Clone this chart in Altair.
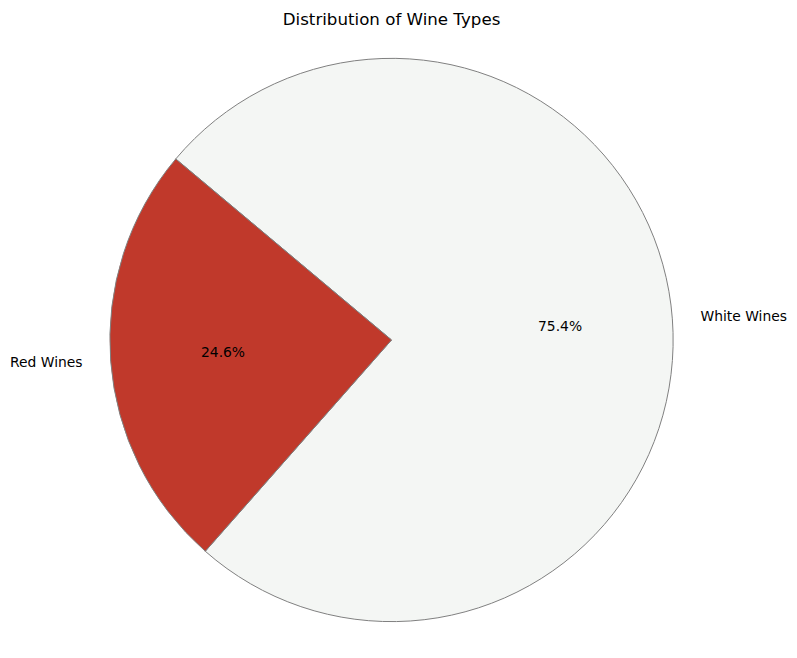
import math
import altair as alt
import pandas as pd

# Data
wine_types = ["White Wines", "Red Wines"]
counts = [4898, 1599]
colors = ["#f4f6f4", "#c0392b"]
order = [0, 1]

df = pd.DataFrame({"type": wine_types, "count": counts, "order": order})

FONT = "DejaVu Sans"
R = 282
start = math.radians(310)

base = (
    alt.Chart(df)
    .transform_stack(stack="count", groupby=[], as_=["start", "end"],
                     sort=[alt.SortField("order", order="ascending")])
    .transform_joinaggregate(total="sum(count)")
    .transform_calculate(
        mid="(datum.start + datum.end) / 2",
        pct="format(datum.count / datum.total * 100, '.1f') + '%'",
    )
)

theta_scale = alt.Scale(domain=[0, sum(counts)], range=[start, start + 2 * math.pi])

arcs = base.mark_arc(radius=R, stroke="#808080", strokeWidth=1).encode(
    theta=alt.Theta("start:Q", scale=theta_scale, stack=None),
    theta2="end:Q",
    color=alt.Color("type:N", scale=alt.Scale(domain=wine_types, range=colors), legend=None),
)

pct_text = base.mark_text(radius=R * 0.6, font=FONT, fontSize=13.9, color="black").encode(
    theta=alt.Theta("mid:Q", scale=theta_scale, stack=None),
    text="pct:N",
)

red_label = base.transform_filter(alt.datum.type == "Red Wines").mark_text(
    radius=R * 1.1, font=FONT, fontSize=13.9, color="black", align="right"
).encode(theta=alt.Theta("mid:Q", scale=theta_scale, stack=None), text="type:N")

white_label = base.transform_filter(alt.datum.type == "White Wines").mark_text(
    radius=R * 1.1, font=FONT, fontSize=13.9, color="black", align="left"
).encode(theta=alt.Theta("mid:Q", scale=theta_scale, stack=None), text="type:N")

chart = (
    alt.layer(arcs, pct_text, red_label, white_label)
    .properties(
        width=768,
        height=600,
        padding={"left": 0, "top": 32, "right": 14, "bottom": 0},
        autosize="none",
        title=alt.TitleParams(
            "Distribution of Wine Types", font=FONT, fontSize=16.7,
            fontWeight="normal", color="black", anchor="middle", frame="group", offset=12,
        ),
    )
    .configure_view(stroke=None)
    .configure(background="white")
)

chart.save("out.html", embed_options={"renderer": "svg", "actions": False})
